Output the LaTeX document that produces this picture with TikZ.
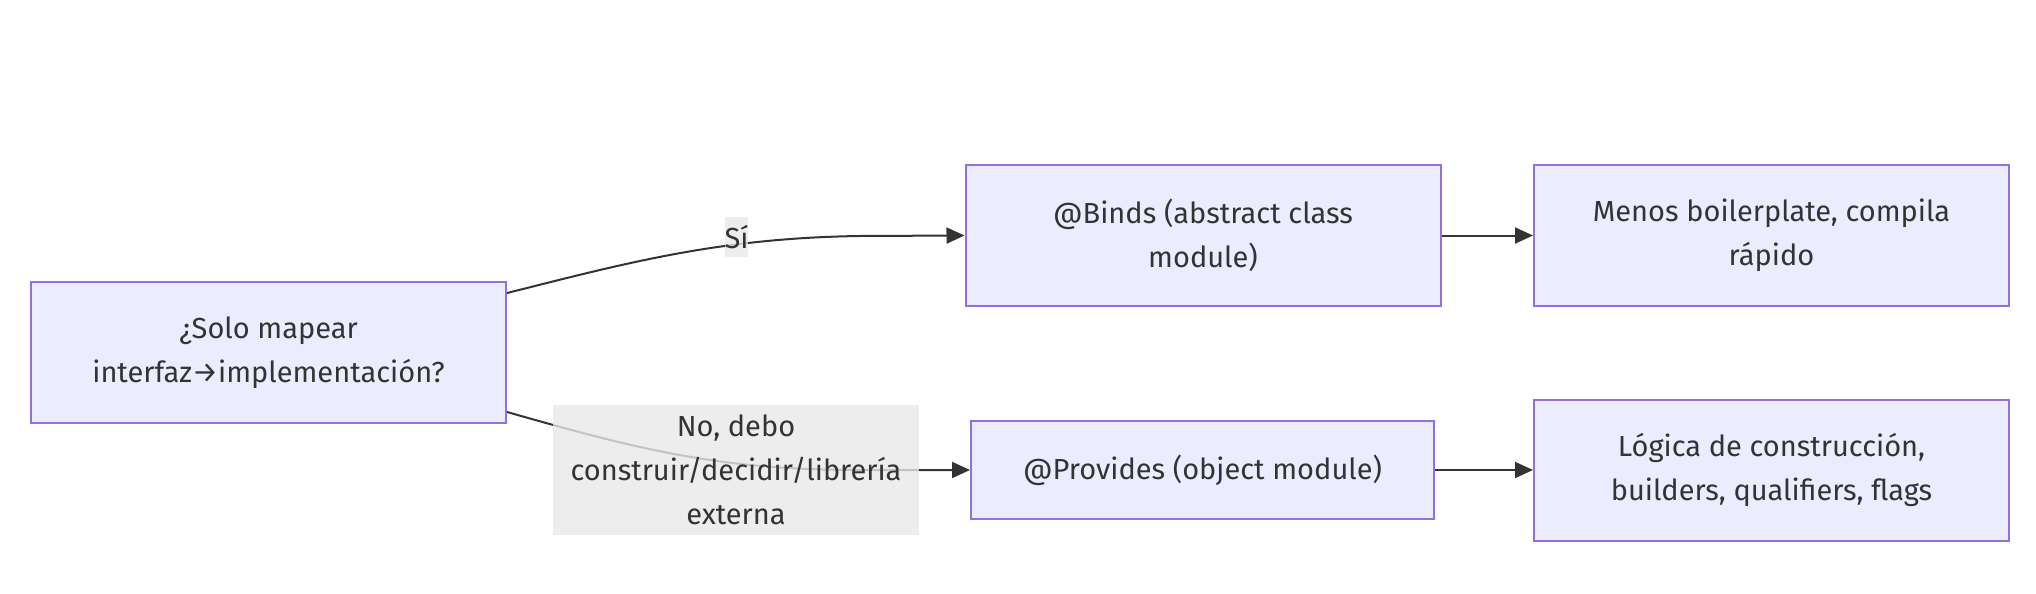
\documentclass[tikz,border=0pt]{standalone}
\usepackage{fontspec}
\setmainfont{Fira Sans}
\usetikzlibrary{arrows.meta}
\definecolor{boxfill}{HTML}{ECECFF}
\definecolor{boxline}{HTML}{9370DB}
\definecolor{ink}{HTML}{333333}
\definecolor{tagfill}{HTML}{E8E8E8}
\tikzset{
    box/.style={draw=boxline, fill=boxfill, line width=1pt, minimum width=237.5pt,
        minimum height=70.5pt, align=center, text=ink, inner sep=0pt,
        font=\fontsize{14.5}{22}\selectfont},
    tag/.style={fill=tagfill, fill opacity=0.8, text opacity=1, text=ink, align=center,
        inner sep=0pt, font=\fontsize{14.5}{22}\selectfont},
    flow/.style={draw=ink, line width=1pt, -{Triangle[length=9pt, width=8pt]}}
}
\begin{document}
\begin{tikzpicture}[x=0.5pt, y=-0.5pt]
    \useasboundingbox (0, 0) rectangle (2036, 594);
    \node[box] (qa) at (268.5, 352.5) {¿Solo mapear\\interfaz→implementación?};
    \node[box] (qb) at (1203, 235.5) {@Binds (abstract class\\module)};
    \node[box] (qc) at (1771.5, 235.5) {Menos boilerplate, compila\\rápido};
    \node[box, minimum width=231.5pt, minimum height=49pt] (qd) at (1202.5, 470) {@Provides (object module)};
    \node[box] (qe) at (1771.5, 470) {Lógica de construcción,\\builders, qualifiers, flags};
    \draw[flow] (qa.14) .. controls (630, 262) and (720, 238) .. (860, 236) -- (qb.west);
    \draw[flow] (qa.-14) .. controls (640, 450) and (720, 470) .. (860, 470) -- (qd.west);
    \draw[flow] (qb) -- (qc);
    \draw[flow] (qd) -- (qe);
    \node[tag, minimum width=11.5pt, minimum height=20pt] (yes) at (736.5, 237) {Sí};
    \node[tag, minimum width=183pt, minimum height=65pt] (no) at (736, 470) {No, debo\\construir/decidir/librería\\externa};
\end{tikzpicture}
\end{document}
